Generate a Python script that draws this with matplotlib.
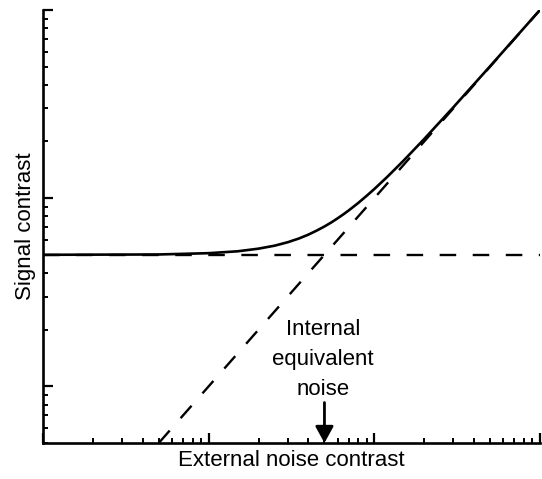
import matplotlib
matplotlib.use('Agg')
import matplotlib.pyplot as plt

plt.rcParams['font.family'] = ['Liberation Sans', 'DejaVu Sans']

# threshold curve (external noise vs signal contrast)
noise = [1, 5, 10, 15, 20, 25, 30, 35, 40, 45, 50, 55, 60, 65, 70, 80, 90,
         100, 120, 150, 200, 300, 500, 1000]
signal = [5.0, 5.02, 5.1, 5.22, 5.39, 5.59, 5.83, 6.1, 6.4, 6.73, 7.07, 7.43,
          7.81, 8.2, 8.6, 9.43, 10.3, 11.18, 13.0, 15.81, 20.62, 30.41, 50.25, 100.1]

# asymptotes
flat_x = [1, 1000]
flat_y = [5, 5]
diag_x = [5, 1000]
diag_y = [0.5, 100]

# internal equivalent noise marker
neq = 50

fig = plt.figure(figsize=(5.42, 4.79), dpi=100)
ax = fig.add_axes([0.0793, 0.0752, 0.9170, 0.9040])

ax.plot(noise, signal, '-', color='black', lw=1.9)
ax.plot(flat_x, flat_y, '--', color='black', lw=1.7, dashes=(7, 7))
ax.plot(diag_x, diag_y, '--', color='black', lw=1.7, dashes=(7, 7))

ax.set_xscale('log')
ax.set_yscale('log')
ax.set_xlim(1, 1000)
ax.set_ylim(0.5, 100)

for s in ['top', 'right']:
    ax.spines[s].set_visible(False)
for s in ['left', 'bottom']:
    ax.spines[s].set_linewidth(1.9)

ax.tick_params(which='both', direction='in', labelbottom=False, labelleft=False)
ax.tick_params(which='major', length=7.5, width=1.6)
ax.tick_params(which='minor', length=3.5, width=1.4)

ax.set_xlabel('External noise contrast', fontsize=16, labelpad=5)
ax.set_ylabel('Signal contrast', fontsize=16, labelpad=5)

ax.annotate('', xy=(neq, 0.5), xytext=(neq, 0.82),
            arrowprops=dict(arrowstyle='-|>,head_length=1.0,head_width=0.55',
                            lw=2.0, color='black', shrinkA=0, shrinkB=0),
            annotation_clip=False)
ax.text(neq * 0.98, 1.39, 'Internal\nequivalent\nnoise', ha='center', va='center',
        fontsize=16, linespacing=1.55)

fig.savefig('out.png', dpi=100)
